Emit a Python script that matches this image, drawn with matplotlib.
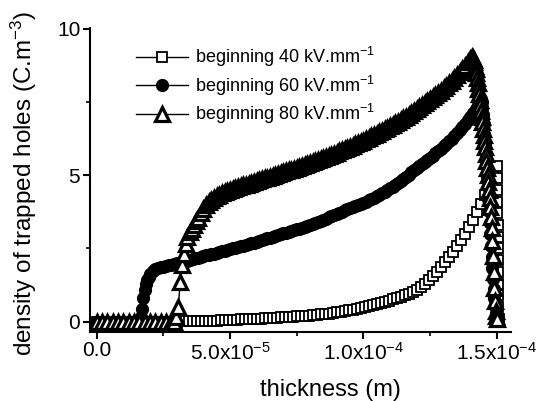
import numpy as np
import matplotlib
matplotlib.use("Agg")
import matplotlib.pyplot as plt
from matplotlib.ticker import FixedLocator, MultipleLocator

plt.rcParams['font.family'] = ['Liberation Sans', 'DejaVu Sans']
plt.rcParams['mathtext.default'] = 'regular'

# trapped hole density profiles; thickness grid in micrometres
# 40 kV/mm
thick_40 = (list(range(0, 30, 2))
            + [30 + 1.5*i for i in range(81)]
            + [150 + 0.05*(i + 1) for i in range(13)])
dens_40 = ([0]*15
           + [0, 0.01, 0.01, 0.01, 0.02, 0.02, 0.03, 0.03, 0.03, 0.04,
              0.04, 0.05, 0.05, 0.06, 0.06, 0.07, 0.08, 0.08, 0.09, 0.09,
              0.1, 0.11, 0.12, 0.12, 0.13, 0.14, 0.15, 0.15, 0.16, 0.17,
              0.18, 0.19, 0.2, 0.21, 0.22, 0.24, 0.25, 0.27, 0.28, 0.3,
              0.32, 0.34, 0.36, 0.39, 0.41, 0.44, 0.47, 0.5, 0.53, 0.57,
              0.6, 0.64, 0.68, 0.72, 0.76, 0.8, 0.85, 0.9, 0.95, 1.01,
              1.08, 1.18, 1.3, 1.43, 1.56, 1.71, 1.86, 2.03, 2.2, 2.38,
              2.58, 2.78, 3.0, 3.22, 3.47, 3.74, 4.02, 4.32, 4.65, 4.99,
              5.3]
           + [4.9, 4.5, 4.1, 3.7, 3.3, 2.9, 2.5, 2.1, 1.7, 1.3, 0.9, 0.5, 0.1])

# 60 kV/mm
thick_60 = (list(range(0, 17, 2))
            + [16.5, 17, 17.5, 18, 18.5, 19, 19.5]
            + list(range(20, 144))
            + [143.5] + [144 + 0.25*i for i in range(25)])
dens_60 = ([0]*9
           + [0.15, 0.45, 0.8, 1.07, 1.28, 1.42, 1.53]
           + [1.62, 1.72, 1.79, 1.83, 1.86, 1.88, 1.91, 1.93, 1.95, 1.98, 2.0,
              2.02, 2.04, 2.06, 2.08, 2.11, 2.13, 2.16, 2.18, 2.21, 2.23,
              2.26, 2.28, 2.3, 2.32, 2.35, 2.37, 2.4, 2.42, 2.45, 2.47,
              2.5, 2.52, 2.55, 2.58, 2.6, 2.63, 2.65, 2.68, 2.7, 2.73,
              2.76, 2.78, 2.81, 2.84, 2.87, 2.9, 2.93, 2.96, 2.99, 3.02,
              3.04, 3.07, 3.1, 3.12, 3.15, 3.17, 3.2, 3.23, 3.27, 3.3,
              3.34, 3.37, 3.41, 3.44, 3.48, 3.52, 3.56, 3.6, 3.64, 3.68,
              3.72, 3.76, 3.8, 3.84, 3.88, 3.92, 3.96, 3.99, 4.03, 4.06,
              4.1, 4.14, 4.19, 4.23, 4.28, 4.33, 4.38, 4.43, 4.49, 4.55,
              4.61, 4.67, 4.74, 4.81, 4.88, 4.95, 5.02, 5.1, 5.17, 5.24,
              5.31, 5.38, 5.45, 5.52, 5.6, 5.67, 5.75, 5.82, 5.9, 5.98,
              6.06, 6.15, 6.24, 6.34, 6.44, 6.54, 6.65, 6.76, 6.88, 7.0,
              7.12, 7.25, 7.4]
           + [7.48]
           + [7.55, 7.5, 7.3, 7.05, 6.75, 6.42, 6.08, 5.72, 5.35, 4.97,
              4.58, 4.18, 3.78, 3.38, 2.98, 2.58, 2.2, 1.82, 1.46, 1.12,
              0.8, 0.52, 0.3, 0.14, 0.05])

# 80 kV/mm
thick_80 = (list(range(0, 30, 2)) + [29]
            + [29.8, 30.6, 31.3, 32.0, 32.6, 33.3, 34.0, 34.8, 35.6, 36.4, 37.2]
            + list(range(38, 141))
            + [140.5] + [141 + 0.25*i for i in range(37)])
dens_80 = ([0]*16
           + [0.15, 0.5, 1.35, 1.95, 2.3, 2.65, 2.9, 3.05, 3.15, 3.3, 3.42]
           + [3.55, 3.71, 3.85, 3.97, 4.07, 4.15, 4.22, 4.28, 4.33, 4.38, 4.42, 4.46, 4.5,
              4.53, 4.56, 4.59, 4.62, 4.65, 4.68, 4.71, 4.74, 4.77, 4.8,
              4.83, 4.86, 4.89, 4.92, 4.95, 4.98, 5.01, 5.04, 5.07, 5.1,
              5.13, 5.16, 5.19, 5.22, 5.25, 5.28, 5.31, 5.35, 5.38, 5.42,
              5.45, 5.49, 5.52, 5.56, 5.59, 5.63, 5.66, 5.7, 5.73, 5.77,
              5.81, 5.85, 5.89, 5.93, 5.97, 6.01, 6.05, 6.09, 6.13, 6.17,
              6.22, 6.27, 6.32, 6.37, 6.42, 6.47, 6.52, 6.57, 6.62, 6.67,
              6.72, 6.78, 6.83, 6.89, 6.94, 7.0, 7.06, 7.12, 7.18, 7.24,
              7.31, 7.38, 7.45, 7.52, 7.59, 7.66, 7.73, 7.8, 7.88, 7.96,
              8.04, 8.13, 8.22, 8.31, 8.41, 8.51, 8.62, 8.73, 8.85, 8.97]
           + [9.04]
           + [9.0, 8.93, 8.85, 8.74, 8.62, 8.47, 8.3, 8.13, 7.95, 7.77,
              7.58, 7.39, 7.2, 7.0, 6.8, 6.59, 6.38, 6.17, 5.95, 5.73,
              5.5, 5.26, 5.02, 4.77, 4.5, 4.21, 3.9, 3.56, 3.2, 2.75,
              2.25, 1.7, 1.15, 0.7, 0.38, 0.18, 0.08])

labels = ['beginning 40 kV.mm$^{-1}$', 'beginning 60 kV.mm$^{-1}$', 'beginning 80 kV.mm$^{-1}$']
xtick_vals = [0, 5e-5, 1e-4, 1.5e-4]
xtick_text = ['0.0', '5.0x10$^{-5}$', '1.0x10$^{-4}$', '1.5x10$^{-4}$']

fig = plt.figure(figsize=(5.42, 4.01), dpi=100)
ax = fig.add_axes([90/542, 1 - 331.7/401, 421/542, 303.7/401])

um = 1e-6
ax.plot(np.array(thick_40)*um, dens_40, color='k', lw=1, marker='s', ms=7,
        mfc='white', mec='k', mew=1.3, label=labels[0])
ax.plot(np.array(thick_60)*um, dens_60, color='k', lw=1, marker='o', ms=8.5,
        mfc='k', mec='k', label=labels[1])
ax.plot(np.array(thick_80)*um, dens_80, color='k', lw=1, marker='^', ms=9.5,
        mfc='white', mec='k', mew=2.3, label=labels[2])

ax.set_xlim(-2.5e-6, 1.553e-4)
ax.set_ylim(-0.34, 10.02)

ax.xaxis.set_major_locator(FixedLocator(xtick_vals))
ax.set_xticklabels(xtick_text)
ax.xaxis.set_minor_locator(MultipleLocator(2.5e-5))
ax.set_yticks([0, 5, 10])
ax.yaxis.set_minor_locator(MultipleLocator(2.5))

for s in ['top', 'right']:
    ax.spines[s].set_visible(False)
for s in ['left', 'bottom']:
    ax.spines[s].set_linewidth(1.5)

ax.tick_params(which='major', direction='out', length=5, width=1.5, labelsize=15, pad=2)
ax.tick_params(which='minor', direction='out', length=3, width=1.2)

ax.set_xlabel('thickness (m)', fontsize=17)
ax.xaxis.set_label_coords(0.57, -0.155)
ax.xaxis.label.set_va('top')
ax.set_ylabel('density of trapped holes (C.m$^{-3}$)', fontsize=17.5)
ax.yaxis.set_label_coords(-0.122, 0.49)

ax.legend(loc='upper left', bbox_to_anchor=(136/542, 1 - 45/401),
          bbox_transform=fig.transFigure, frameon=False, fontsize=13,
          numpoints=1, handlelength=2.9, handletextpad=0.35,
          labelspacing=0.25, borderpad=0, borderaxespad=0)

fig.savefig('out.png', dpi=100)
